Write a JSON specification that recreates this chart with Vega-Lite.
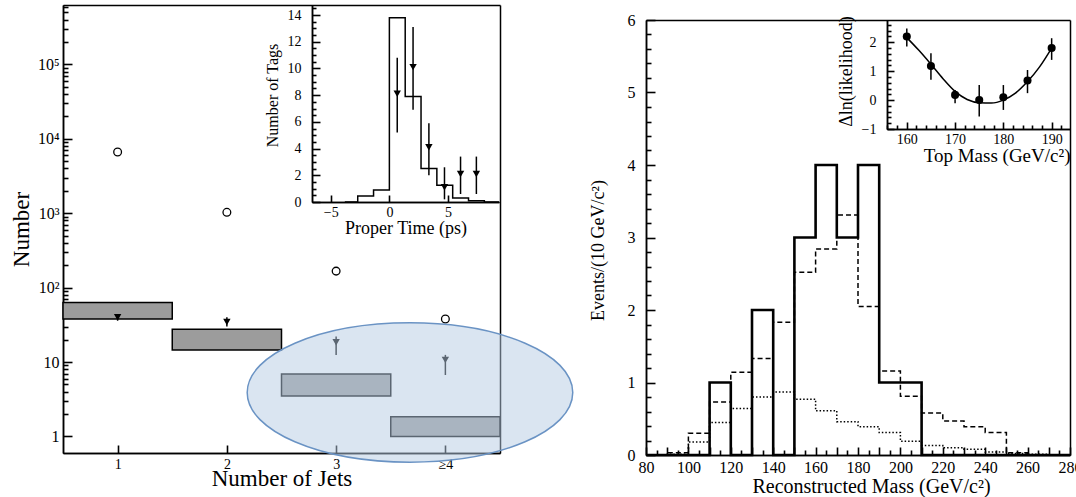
{
  "$schema": "https://vega.github.io/schema/vega-lite/v6.json",
  "width": 1076,
  "height": 497,
  "autosize": "none",
  "padding": 0,
  "background": "white",
  "config": {
    "font": "Liberation Serif",
    "view": {"stroke": null},
    "axis": {
      "grid": false,
      "domainColor": "black",
      "domainWidth": 1.5,
      "labelColor": "black",
      "titleColor": "black",
      "labelFont": "Liberation Serif",
      "titleFont": "Liberation Serif",
      "titleFontWeight": "normal",
      "labelFlush": false,
      "labelOverlap": false
    }
  },
  "datasets": {
    "jets_box": [
      {"jet_lo": 0.5, "jet_hi": 1.5, "lo": 38, "hi": 63},
      {"jet_lo": 1.5, "jet_hi": 2.5, "lo": 14.5, "hi": 27.6},
      {"jet_lo": 2.5, "jet_hi": 3.5, "lo": 3.5, "hi": 6.9},
      {"jet_lo": 3.5, "jet_hi": 4.5, "lo": 1.0, "hi": 1.84}
    ],
    "jets_tag": [
      {"jets": 1, "n": 40, "lo": 36, "hi": 44},
      {"jets": 2, "n": 34.5, "lo": 30, "hi": 40},
      {"jets": 3, "n": 18.5, "lo": 12.5, "hi": 22},
      {"jets": 4, "n": 10.7, "lo": 6.7, "hi": 12.5}
    ],
    "jets_all": [
      {"jets": 1, "n": 6670},
      {"jets": 2, "n": 1030},
      {"jets": 3, "n": 167},
      {"jets": 4, "n": 38}
    ],
    "highlight": [
      {"jets": 3.676, "n": 3.9}
    ],
    "tags_hist": [
      {"t": -3.8, "n": 0},
      {"t": -2.7, "n": 0.45},
      {"t": -1.35, "n": 0.9},
      {"t": 0, "n": 13.8},
      {"t": 1.35, "n": 7.9},
      {"t": 2.7, "n": 2.5},
      {"t": 4.05, "n": 1.25},
      {"t": 5.4, "n": 0.3},
      {"t": 6.75, "n": 0.1},
      {"t": 8.1, "n": 0},
      {"t": 9.35, "n": 0}
    ],
    "tags_pts": [
      {"t": 0.67, "n": 8.1, "lo": 5.2, "hi": 10.8},
      {"t": 2.02, "n": 10.1, "lo": 6.9, "hi": 13.1},
      {"t": 3.37, "n": 4.1, "lo": 2.0, "hi": 5.9},
      {"t": 4.7, "n": 1.1, "lo": 0.2, "hi": 2.6},
      {"t": 6.07, "n": 2.1, "lo": 0.6, "hi": 3.4},
      {"t": 7.42, "n": 2.1, "lo": 0.6, "hi": 3.4}
    ],
    "mass_data": [
      {"m": 80, "ev": 0}, {"m": 110, "ev": 1}, {"m": 120, "ev": 0}, {"m": 130, "ev": 2},
      {"m": 140, "ev": 0}, {"m": 150, "ev": 3}, {"m": 160, "ev": 4}, {"m": 170, "ev": 3},
      {"m": 180, "ev": 4}, {"m": 190, "ev": 1}, {"m": 200, "ev": 1}, {"m": 210, "ev": 0},
      {"m": 280, "ev": 0}
    ],
    "mass_total": [
      {"m": 80, "ev": 0}, {"m": 90, "ev": 0.03}, {"m": 100, "ev": 0.3}, {"m": 110, "ev": 0.73},
      {"m": 120, "ev": 1.14}, {"m": 130, "ev": 1.33}, {"m": 140, "ev": 1.83}, {"m": 150, "ev": 2.52},
      {"m": 160, "ev": 2.84}, {"m": 170, "ev": 3.31}, {"m": 180, "ev": 2.05}, {"m": 190, "ev": 1.16},
      {"m": 200, "ev": 0.81}, {"m": 210, "ev": 0.58}, {"m": 220, "ev": 0.47}, {"m": 230, "ev": 0.39},
      {"m": 240, "ev": 0.31}, {"m": 250, "ev": 0.03}, {"m": 260, "ev": 0}, {"m": 280, "ev": 0}
    ],
    "mass_bkg": [
      {"m": 80, "ev": 0}, {"m": 90, "ev": 0.01}, {"m": 100, "ev": 0.18}, {"m": 110, "ev": 0.45},
      {"m": 120, "ev": 0.64}, {"m": 130, "ev": 0.8}, {"m": 140, "ev": 0.87}, {"m": 150, "ev": 0.77},
      {"m": 160, "ev": 0.61}, {"m": 170, "ev": 0.46}, {"m": 180, "ev": 0.39}, {"m": 190, "ev": 0.31},
      {"m": 200, "ev": 0.19}, {"m": 210, "ev": 0.13}, {"m": 220, "ev": 0.1}, {"m": 230, "ev": 0.08},
      {"m": 240, "ev": 0.04}, {"m": 250, "ev": 0.02}, {"m": 260, "ev": 0.01}, {"m": 270, "ev": 0},
      {"m": 280, "ev": 0}
    ],
    "like_curve": [
      {"mt": 160, "dl": 2.16}, {"mt": 162.5, "dl": 1.72}, {"mt": 165, "dl": 1.24}, {"mt": 167.5, "dl": 0.74},
      {"mt": 170, "dl": 0.3}, {"mt": 172.5, "dl": 0.02}, {"mt": 175, "dl": -0.09}, {"mt": 177.5, "dl": -0.1},
      {"mt": 180, "dl": 0.0}, {"mt": 182.5, "dl": 0.24}, {"mt": 185, "dl": 0.64}, {"mt": 187.5, "dl": 1.15},
      {"mt": 190, "dl": 1.8}
    ],
    "like_pts": [
      {"mt": 160, "dl": 2.2, "lo": 1.85, "hi": 2.48},
      {"mt": 165, "dl": 1.18, "lo": 0.7, "hi": 1.62},
      {"mt": 170, "dl": 0.18, "lo": -0.11, "hi": 0.35},
      {"mt": 175, "dl": 0.0, "lo": -0.57, "hi": 0.52},
      {"mt": 180, "dl": 0.1, "lo": -0.34, "hi": 0.52},
      {"mt": 185, "dl": 0.68, "lo": 0.24, "hi": 1.04},
      {"mt": 190, "dl": 1.8, "lo": 1.39, "hi": 2.14}
    ]
  },
  "resolve": {"scale": {"x": "independent", "y": "independent"}},
  "layer": [
    {
      "resolve": {"axis": {"x": "independent", "y": "independent"}},
      "layer": [
        {
          "data": {"name": "jets_box"},
          "mark": {"type": "rect", "fill": "#9c9c9c", "stroke": "black", "strokeWidth": 1.5},
          "encoding": {
            "x": {"field": "jet_lo", "type": "quantitative",
              "scale": {"domain": [0.5, 4.5], "range": [63, 500], "nice": false, "zero": false},
              "axis": {"orient": "bottom", "offset": -44, "values": [1, 2, 3, 4],
                "labelExpr": "datum.value == 4 ? '≥4' : datum.label",
                "ticks": false, "tickSize": 0, "labelPadding": 4, "labelFontSize": 14,
                "title": "Number of Jets", "titleFontSize": 23, "titlePadding": -4}},
            "x2": {"field": "jet_hi"},
            "y": {"field": "lo", "type": "quantitative",
              "scale": {"type": "log", "domain": [0.6, 630000], "range": [453, 5], "nice": false},
              "axis": {"orient": "left", "offset": -63,
                "values": [1, 10, 100, 1000, 10000, 100000],
                "labelExpr": "datum.value == 1 ? '1' : datum.value == 10 ? '10' : datum.value == 100 ? '10²' : datum.value == 1000 ? '10³' : datum.value == 10000 ? '10⁴' : '10⁵'",
                "ticks": false, "tickSize": 0, "labelPadding": 4, "labelFontSize": 16,
                "title": "Number", "titleFontSize": 23, "titlePadding": 4}},
            "y2": {"field": "hi"}
          }
        },
        {
          "data": {"name": "jets_tag"},
          "mark": {"type": "rule", "color": "black", "strokeWidth": 1.5},
          "encoding": {
            "x": {"field": "jets", "type": "quantitative",
              "scale": {"domain": [0.5, 4.5], "range": [63, 500], "nice": false, "zero": false},
              "axis": {"orient": "top", "offset": -5, "labels": false, "ticks": false, "title": null}},
            "y": {"field": "lo", "type": "quantitative",
              "scale": {"type": "log", "domain": [0.6, 630000], "range": [453, 5], "nice": false},
              "axis": {"orient": "right", "offset": -576, "labels": false, "ticks": false, "title": null}},
            "y2": {"field": "hi"}
          }
        },
        {
          "data": {"name": "jets_tag"},
          "mark": {"type": "point", "shape": "triangle-down", "filled": true, "color": "black", "opacity": 1, "size": 55},
          "encoding": {
            "x": {"field": "jets", "type": "quantitative",
              "scale": {"domain": [0.5, 4.5], "range": [63, 500], "nice": false, "zero": false},
              "axis": {"orient": "top", "offset": -453, "values": [1, 2, 3, 4], "labels": false, "domain": true, "ticks": true,
                "tickSize": 8, "tickColor": "black", "tickWidth": 1.6, "title": null}},
            "y": {"field": "n", "type": "quantitative",
              "scale": {"type": "log", "domain": [0.6, 630000], "range": [453, 5], "nice": false},
              "axis": {"orient": "right", "offset": -1013, "labels": false, "domain": true, "ticks": true, "title": null,
                "tickColor": "black", "tickWidth": 1.6,
                "values": [1,2,3,4,5,6,7,8,9,10,20,30,40,50,60,70,80,90,100,200,300,400,500,600,700,800,900,1000,2000,3000,4000,5000,6000,7000,8000,9000,10000,20000,30000,40000,50000,60000,70000,80000,90000,100000,200000,300000,400000,500000,600000],
                "tickSize": {"condition": {"test": "datum.value == 1 || datum.value == 10 || datum.value == 100 || datum.value == 1000 || datum.value == 10000 || datum.value == 100000", "value": 9}, "value": 5}}}
          }
        },
        {
          "data": {"name": "jets_all"},
          "mark": {"type": "point", "shape": "circle", "filled": false, "color": "black", "opacity": 1, "strokeWidth": 1.3, "size": 60},
          "encoding": {
            "x": {"field": "jets", "type": "quantitative", "axis": null,
              "scale": {"domain": [0.5, 4.5], "range": [63, 500], "nice": false, "zero": false}},
            "y": {"field": "n", "type": "quantitative", "axis": null,
              "scale": {"type": "log", "domain": [0.6, 630000], "range": [453, 5], "nice": false}}
          }
        },
        {
          "data": {"name": "highlight"},
          "mark": {"type": "point",
            "shape": "M -1 0 C -1 -0.2364 -0.5523 -0.428 0 -0.428 C 0.5523 -0.428 1 -0.2364 1 0 C 1 0.2364 0.5523 0.428 0 0.428 C -0.5523 0.428 -1 0.2364 -1 0 Z",
            "size": 106000, "filled": true, "opacity": 1, "fill": "#b6cbe3", "fillOpacity": 0.5,
            "stroke": "#6a93c4", "strokeWidth": 1.5, "strokeOpacity": 1},
          "encoding": {
            "x": {"field": "jets", "type": "quantitative", "axis": null,
              "scale": {"domain": [0.5, 4.5], "range": [63, 500], "nice": false, "zero": false}},
            "y": {"field": "n", "type": "quantitative", "axis": null,
              "scale": {"type": "log", "domain": [0.6, 630000], "range": [453, 5], "nice": false}}
          }
        }
      ]
    },
    {
      "resolve": {"axis": {"x": "independent", "y": "independent"}},
      "layer": [
        {
          "data": {"name": "tags_hist"},
          "mark": {"type": "line", "interpolate": "step-after", "color": "black", "strokeWidth": 1.5},
          "encoding": {
            "x": {"field": "t", "type": "quantitative",
              "scale": {"domain": [-6.6, 9.35], "range": [312, 499], "nice": false, "zero": false},
              "axis": {"orient": "bottom", "offset": -295, "values": [-5, 0, 5],
                "ticks": false, "tickSize": 0, "labelPadding": 3, "labelFontSize": 14,
                "title": "Proper Time (ps)", "titleFontSize": 18, "titlePadding": 0}},
            "y": {"field": "n", "type": "quantitative",
              "scale": {"domain": [0, 14.75], "range": [202, 5], "nice": false, "zero": false},
              "axis": {"orient": "left", "offset": -312,
                "values": [0, 2, 4, 6, 8, 10, 12, 14],
                "format": "d",
                "ticks": false, "tickSize": 0, "labelPadding": 11, "labelFontSize": 14,
                "title": "Number of Tags", "titleFontSize": 16, "titlePadding": 7, "titleY": 95}}
          }
        },
        {
          "data": {"name": "tags_pts"},
          "mark": {"type": "rule", "color": "black", "strokeWidth": 1.5},
          "encoding": {
            "x": {"field": "t", "type": "quantitative",
              "scale": {"domain": [-6.6, 9.35], "range": [312, 499], "nice": false, "zero": false},
              "axis": {"orient": "top", "offset": -202, "values": [-5, 0, 5], "labels": false, "domain": true, "ticks": true,
                "tickSize": 7, "tickColor": "black", "tickWidth": 1.6, "title": null}},
            "y": {"field": "lo", "type": "quantitative",
              "scale": {"domain": [0, 14.75], "range": [202, 5], "nice": false, "zero": false},
              "axis": {"orient": "right", "offset": -764, "labels": false, "domain": true, "ticks": true, "title": null,
                "tickColor": "black", "tickWidth": 1.6,
                "values": [0,0.5,1,1.5,2,2.5,3,3.5,4,4.5,5,5.5,6,6.5,7,7.5,8,8.5,9,9.5,10,10.5,11,11.5,12,12.5,13,13.5,14,14.5],
                "tickSize": {"condition": {"test": "datum.value % 2 == 0", "value": 8}, "value": 4}}},
            "y2": {"field": "hi"}
          }
        },
        {
          "data": {"name": "tags_pts"},
          "mark": {"type": "point", "shape": "triangle-down", "filled": true, "color": "black", "opacity": 1, "size": 55},
          "encoding": {
            "x": {"field": "t", "type": "quantitative", "axis": null,
              "scale": {"domain": [-6.6, 9.35], "range": [312, 499], "nice": false, "zero": false}},
            "y": {"field": "n", "type": "quantitative", "axis": null,
              "scale": {"domain": [0, 14.75], "range": [202, 5], "nice": false, "zero": false}}
          }
        }
      ]
    },
    {
      "resolve": {"axis": {"x": "independent", "y": "independent"}},
      "layer": [
        {
          "data": {"name": "mass_data"},
          "mark": {"type": "line", "interpolate": "step-after", "color": "black", "strokeWidth": 2.6},
          "encoding": {
            "x": {"field": "m", "type": "quantitative",
              "scale": {"domain": [80, 280], "range": [646, 1070], "nice": false, "zero": false},
              "axis": {"orient": "bottom", "offset": -42,
                "values": [80, 100, 120, 140, 160, 180, 200, 220, 240, 260, 280],
                "ticks": false, "tickSize": 0, "labelPadding": 4, "labelFontSize": 16,
                "title": "Reconstructed Mass (GeV/c²)", "titleFontSize": 20, "titlePadding": 1, "titleX": 871}},
            "y": {"field": "ev", "type": "quantitative",
              "scale": {"domain": [0, 6], "range": [455, 20], "nice": false, "zero": false},
              "axis": {"orient": "left", "offset": -646,
                "values": [0, 1, 2, 3, 4, 5, 6], "format": "d",
                "ticks": false, "tickSize": 0, "labelPadding": 11, "labelFontSize": 16,
                "title": "Events/(10 GeV/c²)", "titleFontSize": 18, "titlePadding": 20, "titleY": 250}}
          }
        },
        {
          "data": {"name": "mass_total"},
          "mark": {"type": "line", "interpolate": "step-after", "color": "black", "strokeWidth": 1.5, "strokeDash": [5, 3]},
          "encoding": {
            "x": {"field": "m", "type": "quantitative",
              "scale": {"domain": [80, 280], "range": [646, 1070], "nice": false, "zero": false},
              "axis": {"orient": "top", "offset": -20, "labels": false, "ticks": false, "title": null}},
            "y": {"field": "ev", "type": "quantitative",
              "scale": {"domain": [0, 6], "range": [455, 20], "nice": false, "zero": false},
              "axis": {"orient": "right", "offset": -6, "labels": false, "ticks": false, "title": null}}
          }
        },
        {
          "data": {"name": "mass_bkg"},
          "mark": {"type": "line", "interpolate": "step-after", "color": "black", "strokeWidth": 1.5, "strokeDash": [1.5, 2]},
          "encoding": {
            "x": {"field": "m", "type": "quantitative",
              "scale": {"domain": [80, 280], "range": [646, 1070], "nice": false, "zero": false},
              "axis": {"orient": "top", "offset": -455, "labels": false, "domain": true, "ticks": true, "title": null,
                "tickColor": "black", "tickWidth": 1.6,
                "values": [80,85,90,95,100,105,110,115,120,125,130,135,140,145,150,155,160,165,170,175,180,185,190,195,200,205,210,215,220,225,230,235,240,245,250,255,260,265,270,275,280],
                "tickSize": {"condition": {"test": "datum.value % 10 == 0", "value": 8}, "value": 5}}},
            "y": {"field": "ev", "type": "quantitative",
              "scale": {"domain": [0, 6], "range": [455, 20], "nice": false, "zero": false},
              "axis": {"orient": "right", "offset": -430, "labels": false, "domain": true, "ticks": true, "title": null,
                "tickColor": "black", "tickWidth": 1.6,
                "values": [0,0.2,0.4,0.6,0.8,1,1.2,1.4,1.6,1.8,2,2.2,2.4,2.6,2.8,3,3.2,3.4,3.6,3.8,4,4.2,4.4,4.6,4.8,5,5.2,5.4,5.6,5.8,6],
                "tickSize": {"condition": {"test": "datum.value % 1 == 0", "value": 9}, "value": 5}}}
          }
        }
      ]
    },
    {
      "resolve": {"axis": {"x": "independent", "y": "independent"}},
      "layer": [
        {
          "data": {"name": "like_curve"},
          "mark": {"type": "line", "interpolate": "monotone", "color": "black", "strokeWidth": 1.5},
          "encoding": {
            "x": {"field": "mt", "type": "quantitative",
              "scale": {"domain": [155.9, 193.8], "range": [887, 1070], "nice": false, "zero": false},
              "axis": {"orient": "bottom", "offset": -368,
                "values": [160, 170, 180, 190],
                "ticks": false, "tickSize": 0, "labelPadding": 3, "labelFontSize": 14,
                "title": "Top Mass (GeV/c²)", "titleFontSize": 19, "titlePadding": 0, "titleAnchor": "end"}},
            "y": {"field": "dl", "type": "quantitative",
              "scale": {"domain": [-1, 2.77], "range": [129, 20], "nice": false, "zero": false},
              "axis": {"orient": "left", "offset": -887,
                "values": [-1, 0, 1, 2], "format": "d",
                "ticks": false, "tickSize": 0, "labelPadding": 11, "labelFontSize": 14,
                "title": "Δln(likelihood)", "titleFontSize": 18, "titlePadding": 6, "titleY": 71}}
          }
        },
        {
          "data": {"name": "like_pts"},
          "mark": {"type": "rule", "color": "black", "strokeWidth": 1.5},
          "encoding": {
            "x": {"field": "mt", "type": "quantitative",
              "scale": {"domain": [155.9, 193.8], "range": [887, 1070], "nice": false, "zero": false},
              "axis": {"orient": "top", "offset": -129, "labels": false, "domain": true, "ticks": true, "title": null,
                "tickColor": "black", "tickWidth": 1.6,
                "values": [156,158,160,162,164,166,168,170,172,174,176,178,180,182,184,186,188,190,192],
                "tickSize": {"condition": {"test": "datum.value % 10 == 0", "value": 7}, "value": 4}}},
            "y": {"field": "lo", "type": "quantitative",
              "scale": {"domain": [-1, 2.77], "range": [129, 20], "nice": false, "zero": false},
              "axis": {"orient": "right", "offset": -189, "labels": false, "domain": true, "ticks": true, "title": null,
                "tickColor": "black", "tickWidth": 1.6,
                "values": [-1,-0.8,-0.6,-0.4,-0.2,0,0.2,0.4,0.6,0.8,1,1.2,1.4,1.6,1.8,2,2.2,2.4,2.6],
                "tickSize": {"condition": {"test": "datum.value % 1 == 0", "value": 7}, "value": 4}}},
            "y2": {"field": "hi"}
          }
        },
        {
          "data": {"name": "like_pts"},
          "mark": {"type": "point", "shape": "circle", "filled": true, "color": "black", "opacity": 1, "size": 65},
          "encoding": {
            "x": {"field": "mt", "type": "quantitative", "axis": null,
              "scale": {"domain": [155.9, 193.8], "range": [887, 1070], "nice": false, "zero": false}},
            "y": {"field": "dl", "type": "quantitative", "axis": null,
              "scale": {"domain": [-1, 2.77], "range": [129, 20], "nice": false, "zero": false}}
          }
        }
      ]
    }
  ]
}
